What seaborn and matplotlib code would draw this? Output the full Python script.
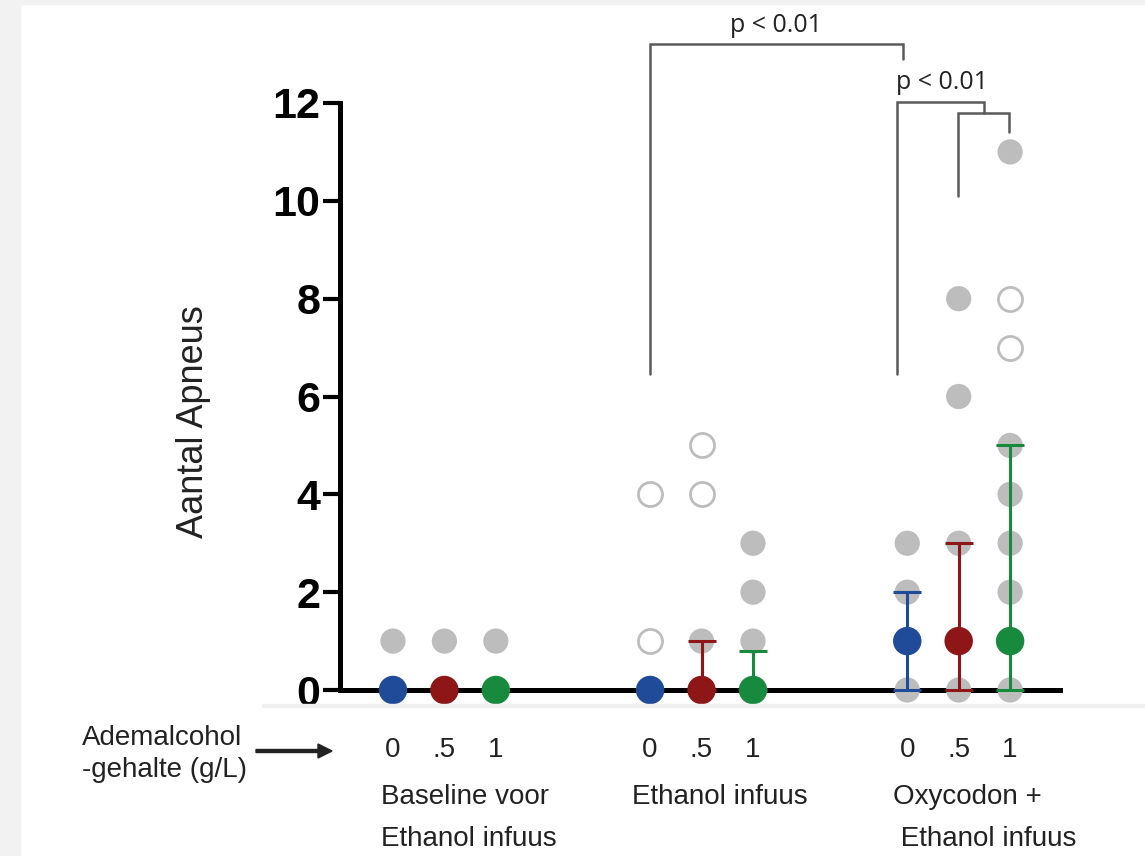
import numpy as np
import pandas as pd
import matplotlib
matplotlib.use("Agg")
import matplotlib.pyplot as plt
import seaborn as sns

sns.set_theme(style="white")
plt.rcParams['font.family'] = ['Liberation Sans', 'DejaVu Sans']

# ---------------- data ----------------
group_labels = ["Baseline voor\nEthanol infuus", "Ethanol infuus", "Oxycodon +\n Ethanol infuus"]
dose_labels = ["0", ".5", "1"]
dose_colors = ["#1f4b98", "#8e1616", "#178a3e"]

# individual subjects, per group -> per dose
filled_values = [
    [[1], [1], [1]],
    [[], [1], [3, 2, 1]],
    [[3, 2, 0], [8, 6, 3, 0], [11, 5, 4, 3, 2, 0]],
]
open_values = [
    [[], [], []],
    [[4, 1], [5, 4], []],
    [[], [], [8, 7]],
]
# median and range shown per group / dose
median_values = [[0, 0, 0], [0, 0, 0], [1, 1, 1]]
lower_values = [[0, 0, 0], [0, 0, 0], [0, 0, 0]]
upper_values = [[0, 0, 0], [0, 1, 0.8], [2, 3, 5]]

p_text = "p < 0.01"

# ---------------- tidy frames ----------------
GAP = 5  # slot spacing between groups
rows_f, rows_o, rows_m = [], [], []
for g in range(3):
    for d in range(3):
        pos = g * GAP + d
        for v in filled_values[g][d]:
            rows_f.append(dict(pos=pos, val=v))
        for v in open_values[g][d]:
            rows_o.append(dict(pos=pos, val=v))
        rows_m.append(dict(pos=pos, med=median_values[g][d], lo=lower_values[g][d],
                           hi=upper_values[g][d], dose=dose_labels[d]))
df_f = pd.DataFrame(rows_f)
df_o = pd.DataFrame(rows_o)
df_m = pd.DataFrame(rows_m)

# ---------------- figure ----------------
W, H = 1145, 856
fig = plt.figure(figsize=(W / 100, H / 100), dpi=100, facecolor="white")

# grey page borders of the original screenshot
fig.patches.append(plt.Rectangle((0, 0), 20 / W, 1, transform=fig.transFigure,
                                 color="#f2f2f2", zorder=0))
fig.patches.append(plt.Rectangle((0, 1 - 4 / H), 1, 4 / H, transform=fig.transFigure,
                                 color="#f2f2f2", zorder=0))
fig.patches.append(plt.Rectangle((262 / W, 1 - 707 / H), 1, 3 / H, transform=fig.transFigure,
                                 color="#f0f0f0", zorder=0))

ax_l, ax_r, ax_t, ax_b = 340, 1060, 103, 690
ax = fig.add_axes([ax_l / W, 1 - ax_b / H, (ax_r - ax_l) / W, (ax_b - ax_t) / H])
ax.set_facecolor("none")

grey = "#bdbdbd"
sns.scatterplot(data=df_f, x="pos", y="val", color=grey, s=330, edgecolor="none",
                ax=ax, zorder=3, clip_on=False, legend=False)
sns.scatterplot(data=df_o, x="pos", y="val", color="white", s=300, edgecolor=grey,
                linewidth=2, ax=ax, zorder=3, clip_on=False, legend=False)

for _, r in df_m.iterrows():
    if r.hi > r.med or r.lo < r.med:
        c = dose_colors[dose_labels.index(r.dose)]
        ax.errorbar(r.pos, r.med, yerr=[[r.med - r.lo], [r.hi - r.med]], fmt="none",
                    ecolor=c, elinewidth=2.2, capsize=10, capthick=2.2, zorder=4,
                    clip_on=False)

sns.scatterplot(data=df_m, x="pos", y="med", hue="dose", palette=dose_colors,
                hue_order=dose_labels, s=420, edgecolor="none", ax=ax, zorder=5,
                clip_on=False, legend=False)

ax.set_xlim(-1.03, 12.97)
ax.set_ylim(0, 12)
ax.set_yticks(range(0, 13, 2))
ax.set_xticks([g * GAP + d for g in range(3) for d in range(3)])
ax.set_xticklabels(dose_labels * 3)
ax.tick_params(axis="x", length=0, pad=34, labelsize=20, labelcolor="#222222")
ax.tick_params(axis="y", length=12, width=3, direction="out", pad=2,
               labelsize=31, labelcolor="black", color="black", left=True)
for lab in ax.get_yticklabels():
    lab.set_fontweight("bold")
ax.set_xlabel("")
ax.set_ylabel("Aantal Apneus", fontsize=26, color="#222222")
ax.yaxis.set_label_coords(211 / W, 1 - 422 / H, transform=fig.transFigure)

for s in ["top", "right"]:
    ax.spines[s].set_visible(False)
for s in ["left", "bottom"]:
    ax.spines[s].set_linewidth(3.6)
    ax.spines[s].set_color("black")
    ax.spines[s].set_zorder(2)
ax.spines["left"].set_bounds(0, 12)

# significance brackets
bc = "#5a5a5a"
def bracket(x0, x1, y_left, y_top, y_right):
    ax.plot([x0, x0, x1, x1], [y_left, y_top, y_top, y_right], color=bc, lw=1.8,
            clip_on=False, zorder=2, solid_joinstyle="miter")

bracket(5.0, 9.92, 6.45, 13.2, 12.9)
bracket(9.8, 11.5, 6.45, 12.02, 11.8)
bracket(10.98, 11.98, 10.1, 11.8, 11.4)
ax.text(7.45, 13.33, p_text, ha="center", va="bottom", fontsize=18, color="#222222",
        family=["Open Sans", "DejaVu Sans"], clip_on=False)
ax.text(10.68, 12.17, p_text, ha="center", va="bottom", fontsize=18, color="#222222",
        family=["Open Sans", "DejaVu Sans"], clip_on=False)

# group labels below the axis
def ftext(x, y, s, **kw):
    fig.text(x / W, 1 - y / H, s, **kw)

lab_kw = dict(fontsize=20, color="#222222", va="center", ha="left", linespacing=1.85)
ftext(381, 818, group_labels[0], **lab_kw)
ftext(632, 797, group_labels[1], **lab_kw)
ftext(893, 818, group_labels[2], **lab_kw)

ftext(82, 754, "Ademalcohol\n-gehalte (g/L)", fontsize=20, color="#222222",
      va="center", ha="left", linespacing=1.3)
fig.patches.append(matplotlib.patches.FancyArrow(256 / W, 1 - 751 / H, 62 / W, 0,
                   width=3 / H, head_width=14 / H, head_length=14 / W, length_includes_head=False,
                   transform=fig.transFigure, color="#222222"))

fig.savefig("out.png", dpi=100, facecolor="white")
